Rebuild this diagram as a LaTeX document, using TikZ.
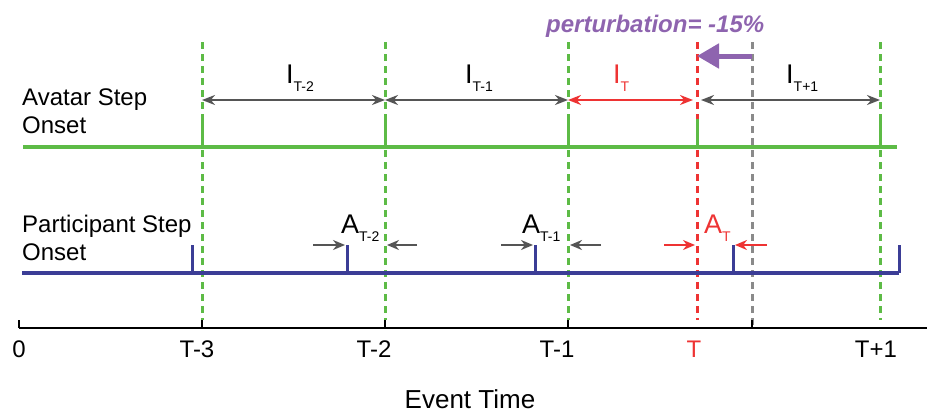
\documentclass[tikz,border=0pt]{standalone}
\usepackage{fontspec}
\setmainfont{Liberation Sans}
\usetikzlibrary{arrows.meta}
\definecolor{avgreen}{HTML}{5DBB46}
\definecolor{ptblue}{HTML}{3B3D96}
\definecolor{pred}{HTML}{EE3333}
\definecolor{dgray}{HTML}{555555}
\definecolor{lgray}{HTML}{8A8A8A}
\definecolor{ppurple}{HTML}{8E64AF}
\newcommand{\lbl}[2]{\fontsize{27}{27}\selectfont #1\raisebox{-8pt}{\fontsize{14}{14}\selectfont #2}}
\tikzset{
  guide/.style={line width=3pt, dash pattern=on 7pt off 5pt},
  track/.style={line width=4.5pt},
  steptick/.style={line width=3pt},
  interval/.style={line width=2.8pt, dgray, {Stealth[length=13pt,width=10pt]}-{Stealth[length=13pt,width=10pt]}},
  asyn/.style={line width=2.8pt, dgray, -{Stealth[length=12pt,width=10pt]}},
  txt/.style={inner sep=0pt, anchor=base west, font=\fontsize{24}{24}\selectfont},
  axlbl/.style={inner sep=0pt, anchor=base, font=\fontsize{24}{24}\selectfont},
  sublbl/.style={inner sep=0pt, anchor=base west},
}
\begin{document}
\begin{tikzpicture}[x=1pt,y=-1pt]
\useasboundingbox (0,0) rectangle (927,413);
% key x positions
\foreach \n/\x in {t3/202, t2/385, t1/568, t0/697, tg/752, tp/880}{
  \coordinate (top\n) at (\x,42);
  \coordinate (bot\n) at (\x,320);
  \coordinate (ax\n) at (\x,328);
  \coordinate (av\n) at (\x,147);
  \coordinate (avt\n) at (\x,119);
  \coordinate (ia\n) at (\x,100);
}
% guide lines
\foreach \n in {t3,t2,t1,tp}{\draw[guide, avgreen] (top\n) -- (bot\n);}
\draw[guide, pred] (topt0) -- (bott0);
\draw[guide, lgray] (toptg) -- (axtg);
% axis
\coordinate (ax0) at (19,328);
\coordinate (axend) at (927,328);
\draw[line width=1.5pt] (ax0) -- (axend);
\foreach \n in {t3,t2,t1,tg}{\draw[line width=1.5pt] (ax\n) -- ++(0,-8);}
\draw[line width=1.5pt] (ax0) -- ++(0,-8);
% avatar track
\coordinate (avs) at (23,147);
\coordinate (ave) at (897,147);
\draw[track, avgreen] (avs) -- (ave);
\foreach \n in {t3,t2,t1,t0,tp}{\draw[steptick, avgreen] (av\n) -- (avt\n);}
% participant track
\coordinate (ps) at (22,273);
\coordinate (pe) at (899,273);
\coordinate (pet) at (899,245);
\draw[track, ptblue] (ps) -- (pe);
\draw[steptick, ptblue] (pe) -- (pet);
\foreach \n/\x in {a/192, b/347, c/535, d/733}{
  \coordinate (p\n) at (\x,273);
  \coordinate (pt\n) at (\x,245);
  \draw[steptick, ptblue] (p\n) -- (pt\n);
}
% interval arrows
\coordinate (iat0a) at (693,100);
\coordinate (iat0b) at (701,100);
\draw[interval] (iat3) -- (iat2);
\draw[interval] (iat2) -- (iat1);
\draw[interval, pred] (iat1) -- (iat0a);
\draw[interval] (iat0b) -- (iatp);
% interval labels
\node[sublbl] (l1) at (286,83) {\lbl{I}{T-2}};
\node[sublbl] (l2) at (465,83) {\lbl{I}{T-1}};
\node[sublbl, text=pred] (l3) at (613,83) {\lbl{I}{T}};
\node[sublbl] (l4) at (786,83) {\lbl{I}{T+1}};
% asynchrony arrows
\coordinate (a1s) at (313,245); \coordinate (a1e) at (345,245);
\coordinate (a2s) at (417,245); \coordinate (a2e) at (387,245);
\coordinate (a3s) at (501,245); \coordinate (a3e) at (533,245);
\coordinate (a4s) at (601,245); \coordinate (a4e) at (570,245);
\coordinate (a5s) at (664,245); \coordinate (a5e) at (695,245);
\coordinate (a6s) at (767,245); \coordinate (a6e) at (735,245);
\draw[asyn] (a1s) -- (a1e);
\draw[asyn] (a2s) -- (a2e);
\draw[asyn] (a3s) -- (a3e);
\draw[asyn] (a4s) -- (a4e);
\draw[asyn, pred] (a5s) -- (a5e);
\draw[asyn, pred] (a6s) -- (a6e);
\node[sublbl] (m1) at (341,233) {\lbl{A}{T-2}};
\node[sublbl] (m2) at (522,233) {\lbl{A}{T-1}};
\node[sublbl, text=pred] (m3) at (704,233) {\lbl{A}{T}};
% perturbation
\coordinate (pg) at (752,56);
\coordinate (pr) at (697,56);
\draw[line width=5pt, ppurple, -{Triangle[length=22pt,width=24pt]}] (pg) -- (pr);
\node[inner sep=0pt, anchor=base west, text=ppurple, font=\fontsize{24}{24}\selectfont\bfseries\itshape] (pert) at (546,32) {perturbation= -15\%};
% track labels
\node[txt] (av1) at (22,105) {Avatar Step};
\node[txt] (av2) at (22,133) {Onset};
\node[txt] (pp1) at (22,232) {Participant Step};
\node[txt] (pp2) at (22,260) {Onset};
% axis labels
\node[axlbl] (x0) at (19,357) {0};
\node[axlbl] (x1) at (197,357) {T-3};
\node[axlbl] (x2) at (374,357) {T-2};
\node[axlbl] (x3) at (557,357) {T-1};
\node[axlbl, text=pred] (x4) at (694,357) {T};
\node[axlbl] (x5) at (876,357) {T+1};
\node[axlbl, font=\fontsize{26}{26}\selectfont] (et) at (470,408) {Event Time};
\end{tikzpicture}
\end{document}
